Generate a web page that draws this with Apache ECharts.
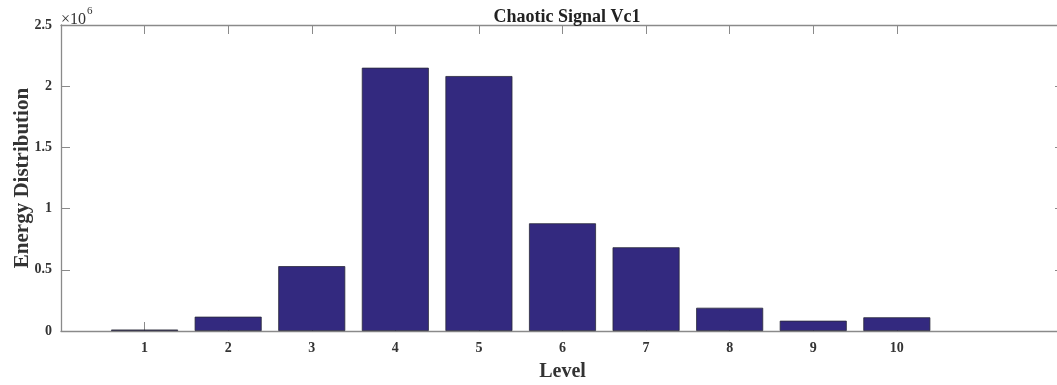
<!DOCTYPE html>
<html>
<head>
<meta charset="utf-8">
<script src="https://cdn.jsdelivr.net/npm/echarts@6/dist/echarts.min.js"></script>
<style>html,body{margin:0;padding:0;background:#fff}#c{width:1057px;height:385px}</style>
</head>
<body>
<div id="c"></div>
<script>
const levels = [1, 2, 3, 4, 5, 6, 7, 8, 9, 10];
const energy = [12000, 117000, 530000, 2151000, 2083000, 880000, 684000, 190000, 84000, 112000];
const yTicks = [0, 0.5, 1, 1.5, 2, 2.5];
const titleText = 'Chaotic Signal Vc1';
const xName = 'Level';
const yName = 'Energy Distribution';

const FONT = '"Liberation Serif", "DejaVu Serif", serif';
const AX = '#8a8a8a';
const chart = echarts.init(document.getElementById('c'), null, {renderer: 'canvas'});
const axisCommon = {
  axisLine: {show: true, onZero: false, lineStyle: {color: AX, width: 1.3}},
  axisTick: {show: true, inside: true, length: 9, lineStyle: {color: AX, width: 1}},
  splitLine: {show: false}
};
chart.setOption({
  animation: false,
  backgroundColor: '#fff',
  title: {
    text: titleText, left: 562, top: 3, textAlign: 'center',
    textStyle: {fontFamily: FONT, fontWeight: 'bold', fontSize: 18, color: '#222'}
  },
  grid: {left: 61, top: 25, width: 1003, height: 306, outerBoundsMode: 'none', containLabel: false},
  xAxis: [
    Object.assign({}, axisCommon, {
      type: 'value', position: 'bottom', min: 0, max: 12, interval: 1,
      axisTick: Object.assign({}, axisCommon.axisTick, {customValues: levels}),
      axisLabel: {customValues: levels, margin: 10, fontFamily: FONT, fontWeight: 'bold', fontSize: 14, color: '#333'},
      name: xName, nameLocation: 'middle', nameGap: 31, nameMoveOverlap: false,
      nameTextStyle: {fontFamily: FONT, fontWeight: 'bold', fontSize: 20, color: '#333'}
    }),
    Object.assign({}, axisCommon, {
      type: 'value', position: 'top', min: 0, max: 12, interval: 1,
      axisTick: Object.assign({}, axisCommon.axisTick, {customValues: levels}),
      axisLabel: {show: false}
    })
  ],
  yAxis: [
    Object.assign({}, axisCommon, {
      type: 'value', position: 'left', min: 0, max: 2500000, interval: 500000,
      axisLabel: {margin: 9, fontFamily: FONT, fontWeight: 'bold', fontSize: 14, color: '#333',
        formatter: v => String(yTicks[Math.round(v / 500000)])},
      name: yName, nameLocation: 'middle', nameGap: 28, nameMoveOverlap: false,
      nameTextStyle: {fontFamily: FONT, fontWeight: 'bold', fontSize: 21, color: '#333'}
    }),
    Object.assign({}, axisCommon, {
      type: 'value', position: 'right', min: 0, max: 2500000, interval: 500000,
      axisLabel: {show: false}
    })
  ],
  graphic: [{
    type: 'text', left: 61, top: 6,
    style: {
      text: '{a|×10}{b|6}',
      rich: {
        a: {fontFamily: FONT, fontSize: 16, fill: '#333', padding: [6, 0, 0, 0]},
        b: {fontFamily: FONT, fontSize: 11, fill: '#333', verticalAlign: 'top', padding: [0, 0, 6, 1]}
      }
    }
  }],
  series: [{
    type: 'bar', xAxisIndex: 0, yAxisIndex: 0,
    data: levels.map((l, i) => [l, energy[i]]),
    barWidth: 67,
    itemStyle: {color: '#33297f', borderColor: '#2a2a3a', borderWidth: 0.8}
  }]
});
</script>
</body>
</html>
